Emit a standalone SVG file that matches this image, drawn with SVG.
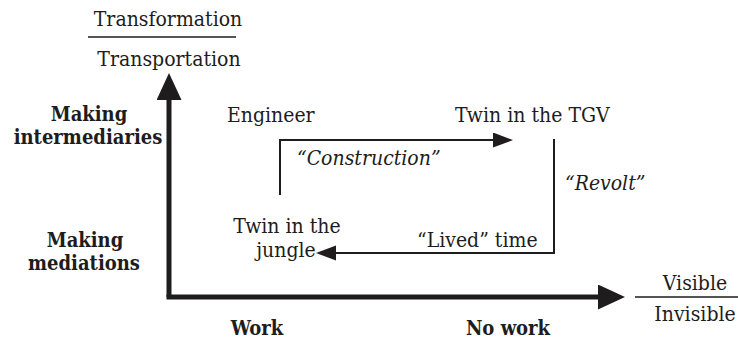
<svg xmlns="http://www.w3.org/2000/svg" width="738" height="340" viewBox="0 0 738 340">
<defs>
<style>
text{font-family:'DejaVu Serif',serif;font-stretch:condensed;font-size:21px;fill:#1e1c1c}
.b{font-weight:bold;font-size:20px}
.i{font-style:italic}
.m{text-anchor:middle}
.ax{stroke:#1e1c1c;stroke-width:5;fill:none}
.cn{stroke:#1e1c1c;stroke-width:2;fill:none}
.rule{stroke:#1e1c1c;stroke-width:1.5}
</style>
<marker id="big" markerUnits="userSpaceOnUse" markerWidth="28" markerHeight="26" refX="0" refY="12.5" orient="auto">
<path d="M0,0 L27,12.5 L0,25 z" fill="#1e1c1c"/>
</marker>
<marker id="small" markerUnits="userSpaceOnUse" markerWidth="21" markerHeight="16" refX="0" refY="7.5" orient="auto">
<path d="M0,0 L20,7.5 L0,15 z" fill="#1e1c1c"/>
</marker>
</defs>
<rect width="738" height="340" fill="#fff"/>

<g id="axes">
<path class="ax" d="M169,297 V100" marker-end="url(#big)"/>
<path class="ax" d="M166.5,297 H598" marker-end="url(#big)"/>
</g>

<g id="y-label">
<text class="m" x="168" y="26">Transformation</text>
<line class="rule" x1="88" y1="37" x2="236" y2="37"/>
<text class="m" x="169" y="66">Transportation</text>
</g>

<g id="x-label">
<text class="m" x="695" y="290">Visible</text>
<line class="rule" x1="635" y1="297" x2="738" y2="297"/>
<text class="m" x="695" y="321">Invisible</text>
</g>

<g id="making-intermediaries">
<text class="b m" x="89" y="121">Making</text>
<text class="b m" x="88" y="144">intermediaries</text>
</g>
<g id="making-mediations">
<text class="b m" x="85" y="247">Making</text>
<text class="b m" x="84" y="270">mediations</text>
</g>
<g id="work"><text class="b m" x="257" y="335">Work</text></g>
<g id="no-work"><text class="b m" x="508" y="335">No work</text></g>

<g id="engineer"><text x="227" y="122">Engineer</text></g>
<g id="twin-tgv"><text x="455" y="122">Twin in the TGV</text></g>
<g id="twin-jungle">
<text class="m" x="287" y="233">Twin in the</text>
<text class="m" x="286" y="257">jungle</text>
</g>

<g id="connectors">
<path class="cn" d="M280,195 V140 H493" marker-end="url(#small)"/>
<path class="cn" d="M554,139 V253 H336" marker-end="url(#small)"/>
<text class="i" x="297" y="165">“Construction”</text>
<text class="i" x="565" y="190">“Revolt”</text>
<text x="417" y="247">“Lived” time</text>
</g>
</svg>
